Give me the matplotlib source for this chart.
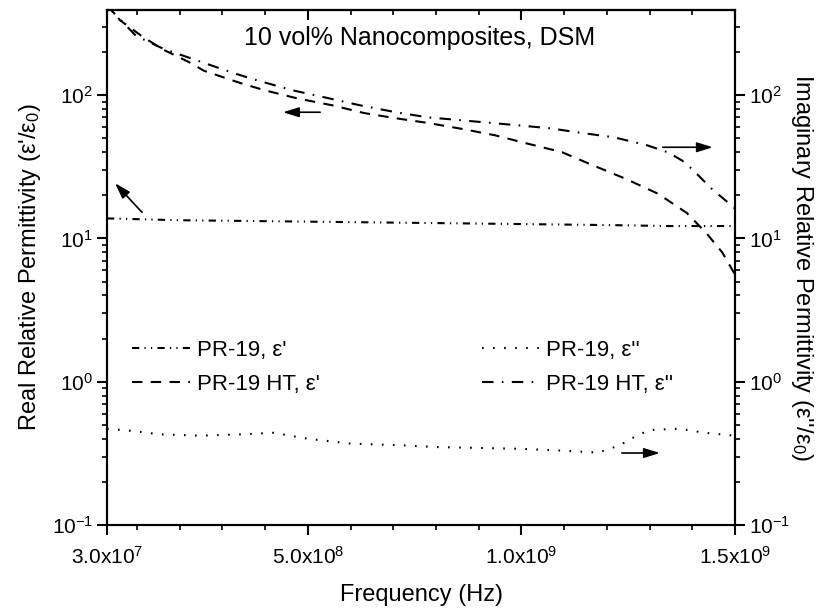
import matplotlib
matplotlib.use("Agg")
import matplotlib.pyplot as plt
from matplotlib.ticker import FixedLocator, FixedFormatter, LogLocator, NullFormatter

plt.rcParams["font.family"] = ["Liberation Sans", "DejaVu Sans"]
plt.rcParams["mathtext.fontset"] = "custom"
plt.rcParams["mathtext.rm"] = "Liberation Sans"
plt.rcParams["mathtext.it"] = "Liberation Sans:italic"
plt.rcParams["mathtext.bf"] = "Liberation Sans:bold"

# ----------------------------------------------------------------------
# data
# ----------------------------------------------------------------------

# PR-19, eps' (left axis)
freq_pr19_re = [3e7, 2e8, 5e8, 8e8, 1.0e9, 1.2e9, 1.35e9, 1.5e9]
eps_pr19_re = [13.8, 13.4, 13.1, 12.8, 12.6, 12.4, 12.2, 12.2]

# PR-19 HT, eps' (left axis)
freq_ht_re = [3e7, 6e7, 1.14e8, 1.63e8, 2.22e8, 2.57e8, 3.44e8, 4.0e8, 4.75e8,
              5.57e8, 6.32e8, 7.06e8, 7.81e8, 8.63e8, 9.38e8, 1.013e9, 1.095e9,
              1.161e9, 1.245e9, 1.32e9, 1.388e9, 1.434e9, 1.47e9, 1.5e9]
eps_ht_re = [440, 334, 255, 207, 170, 148, 121, 108, 95,
             85, 75, 69, 64, 58, 52.5, 46, 40,
             33, 26, 20.5, 15, 10.8, 8, 5.6]

# PR-19, eps'' (right axis)
freq_pr19_im = [3e7, 1.0e8, 1.5e8, 2.5e8, 3.5e8, 4.2e8, 5e8, 6e8, 7.2e8, 8e8,
                9e8, 1.0e9, 1.1e9, 1.18e9, 1.23e9, 1.27e9, 1.3e9, 1.37e9,
                1.43e9, 1.5e9]
eps_pr19_im = [0.47, 0.45, 0.43, 0.42, 0.43, 0.44, 0.40, 0.37, 0.36, 0.35,
               0.345, 0.34, 0.33, 0.32, 0.36, 0.42, 0.46, 0.47,
               0.44, 0.42]

# PR-19 HT, eps'' (right axis)
freq_ht_im = [3e7, 9.8e7, 1.63e8, 3.25e8, 3.81e8, 4.65e8, 5.5e8, 6.22e8,
              7.06e8, 7.81e8, 8.3e8, 9.92e8, 1.065e9, 1.151e9, 1.217e9,
              1.294e9, 1.343e9, 1.376e9, 1.4e9, 1.444e9, 1.5e9]
eps_ht_im = [420, 259, 210, 143, 127, 108, 95, 85,
             76, 70, 68, 61.6, 58.8, 54, 50.8,
             44.7, 39.9, 35, 30.4, 22.4, 16.2]

x_major = [3e7, 5e8, 1e9, 1.5e9]
x_major_labels = ["3.0x10$^{7}$", "5.0x10$^{8}$", "1.0x10$^{9}$", "1.5x10$^{9}$"]
x_minor = [1e8, 2e8, 3e8, 4e8, 6e8, 7e8, 8e8, 9e8, 1.1e9, 1.2e9, 1.3e9, 1.4e9]

# arrows: (tail, head)
arrows = [
    ((5.29e8, 76), (4.42e8, 76)),
    ((1.331e9, 43.3), (1.448e9, 43.3)),
    ((1.12e8, 15.2), (4.87e7, 24.3)),
    ((1.235e9, 0.318), (1.324e9, 0.318)),
]

y_lim = (0.1, 393)

# ----------------------------------------------------------------------
# plot
# ----------------------------------------------------------------------

fig = plt.figure(figsize=(8.28, 6.11), dpi=100)
ax = fig.add_axes([107 / 828, 86 / 611, 628 / 828, 515 / 611])
ax2 = ax.twinx()

lw = 1.5
l1, = ax.plot(freq_pr19_re, eps_pr19_re, color="black", lw=lw,
              dashes=(3.5, 2.5, 0.6, 2.5, 0.6, 2.5), label="PR-19, ε'")
l2, = ax.plot(freq_ht_re, eps_ht_re, color="black", lw=lw,
              dashes=(5, 4), label="PR-19 HT, ε'")
l3, = ax2.plot(freq_pr19_im, eps_pr19_im, color="black", lw=lw,
               dashes=(0.8, 4.5), label="PR-19, ε''")
l4, = ax2.plot(freq_ht_im, eps_ht_im, color="black", lw=lw,
               dashes=(5.5, 4, 0.8, 4), label="PR-19 HT, ε''")

for a in (ax, ax2):
    a.set_yscale("log")
    a.set_ylim(*y_lim)
    a.yaxis.set_major_locator(LogLocator(base=10, numticks=10))
    a.yaxis.set_minor_locator(LogLocator(base=10, subs=range(2, 10), numticks=10))
    a.yaxis.set_minor_formatter(NullFormatter())
    a.tick_params(axis="y", which="major", direction="out", length=7, width=1.5,
                  labelsize=15, pad=3)
    a.tick_params(axis="y", which="minor", direction="out", length=3.5, width=1.2)

ax.set_xlim(3e7, 1.5e9)
ax.xaxis.set_major_locator(FixedLocator(x_major))
ax.xaxis.set_major_formatter(FixedFormatter(x_major_labels))
ax.xaxis.set_minor_locator(FixedLocator(x_minor))
ax.tick_params(axis="x", which="major", direction="out", length=7, width=1.5,
               labelsize=15, pad=8)
ax.tick_params(axis="x", which="minor", direction="out", length=3.5, width=1.2)

top = ax.secondary_xaxis("top")
top.xaxis.set_major_locator(FixedLocator(x_major))
top.xaxis.set_minor_locator(FixedLocator(x_minor))
top.tick_params(axis="x", which="major", direction="in", length=7, width=1.5,
                labeltop=False)
top.tick_params(axis="x", which="minor", direction="in", length=3.5, width=1.2)

for a in (ax, ax2):
    for s in a.spines.values():
        s.set_linewidth(1.5)
top.spines["top"].set_linewidth(1.5)

ax.set_xlabel("Frequency (Hz)", fontsize=17, labelpad=12)
ax.set_ylabel("Real Relative Permittivity (ε'/ε$_0$)", fontsize=17, labelpad=6)
ax2.set_ylabel("Imaginary Relative Permittivity (ε''/ε$_0$)", fontsize=17,
               rotation=270, labelpad=18)

ax.text(0.498, 0.946, "10 vol% Nanocomposites, DSM", transform=ax.transAxes,
        ha="center", va="center", fontsize=18)

for tail, head in arrows:
    ax.annotate("", xy=head, xytext=tail,
                arrowprops=dict(arrowstyle="-|>,head_length=0.8,head_width=0.25",
                                color="black", lw=1.2, mutation_scale=12,
                                shrinkA=0, shrinkB=0))

leg_kw = dict(frameon=False, fontsize=16, handlelength=2.6, handletextpad=0.3,
              labelspacing=0.6, borderpad=0, borderaxespad=0, loc="center left")
leg1 = ax2.legend(handles=[l1, l2], bbox_to_anchor=(0.04, 0.306), **leg_kw)
ax2.add_artist(leg1)
ax2.legend(handles=[l3, l4], bbox_to_anchor=(0.597, 0.306), **leg_kw)

fig.savefig("out.png", dpi=100)
